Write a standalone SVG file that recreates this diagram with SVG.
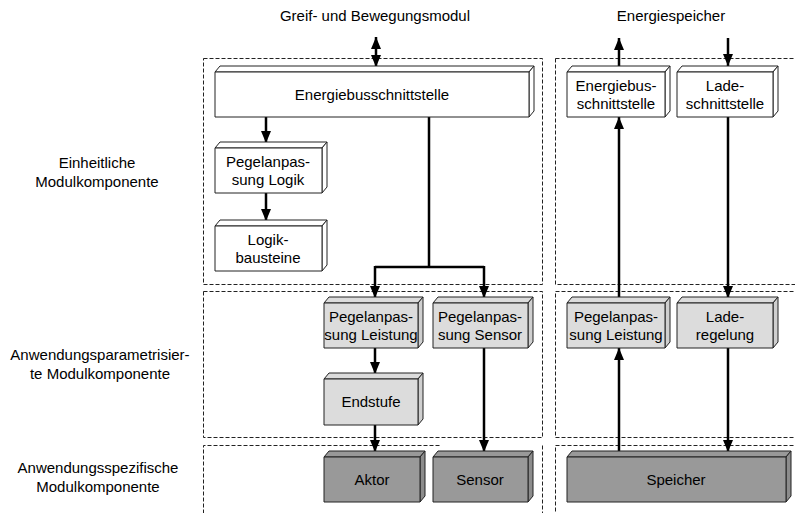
<svg xmlns="http://www.w3.org/2000/svg" width="795" height="513" viewBox="0 0 795 513">
  <style>
    text { font-family: "Liberation Sans", Arial, sans-serif; font-size: 15px; fill: #000; text-anchor: middle; }
    .frame { fill: none; stroke: #222; stroke-width: 1; stroke-dasharray: 4 2; }
    .box path { stroke: #222; stroke-width: 1; stroke-linejoin: round; }
    .white path { fill: #ffffff; }
    .light path { fill: #dcdcdc; }
    .dark path { fill: #999999; }
    .light path.side { fill: #cfcfcf; }
    .dark path.side { fill: #8c8c8c; }
    .conn { fill: none; stroke: #000; stroke-width: 2.5; }
  </style>
  <defs>
    <marker id="arrow" markerUnits="userSpaceOnUse" markerWidth="12" markerHeight="10" refX="12" refY="5" orient="auto-start-reverse">
      <path d="M0,0 L12,5 L0,10 z" fill="#000"/>
    </marker>
  </defs>

  <rect width="795" height="513" fill="#fff"/>

  <!-- dashed component frames (half-pixel offset keeps the 1px dashes crisp) -->
  <g id="frames" transform="translate(0.5,0.5)">
    <rect class="frame" x="203" y="58" width="339" height="226"/>
    <rect class="frame" x="203" y="291" width="339" height="146"/>
    <path class="frame" d="M439,445 H203 V513 M542,445 V513"/>
    <rect class="frame" x="555" y="58" width="250" height="226"/>
    <rect class="frame" x="555" y="291" width="250" height="146"/>
    <path class="frame" d="M805,445 H555 V513"/>
  </g>

  <!-- row labels -->
  <g id="labels">
    <text x="97" y="168">Einheitliche</text>
    <text x="97" y="187">Modulkomponente</text>
    <text x="100" y="360">Anwendungsparametrisier-</text>
    <text x="100" y="379">te Modulkomponente</text>
    <text x="98" y="473">Anwendungsspezifische</text>
    <text x="98" y="492">Modulkomponente</text>
    <text x="375" y="21">Greif- und Bewegungsmodul</text>
    <text x="671" y="21">Energiespeicher</text>
  </g>

  <!-- connectors -->
  <g id="connectors">
    <path class="conn" d="M376,37 V67" marker-start="url(#arrow)" marker-end="url(#arrow)"/>
    <path class="conn" d="M266,117 V143" marker-end="url(#arrow)"/>
    <path class="conn" d="M266,193 V221" marker-end="url(#arrow)"/>
    <path class="conn" d="M429,117 V267 M375,267 H484"/>
    <path class="conn" d="M375,266 V298" marker-end="url(#arrow)"/>
    <path class="conn" d="M484,266 V298" marker-end="url(#arrow)"/>
    <path class="conn" d="M375,348 V374" marker-end="url(#arrow)"/>
    <path class="conn" d="M375,425 V452" marker-end="url(#arrow)"/>
    <path class="conn" d="M484,348 V452" marker-end="url(#arrow)"/>
    <path class="conn" d="M619,66 V38" marker-end="url(#arrow)"/>
    <path class="conn" d="M728,38 V66" marker-end="url(#arrow)"/>
    <path class="conn" d="M619,298 V117" marker-end="url(#arrow)"/>
    <path class="conn" d="M728,117 V298" marker-end="url(#arrow)"/>
    <path class="conn" d="M619,452 V348" marker-end="url(#arrow)"/>
    <path class="conn" d="M728,348 V452" marker-end="url(#arrow)"/>
  </g>

  <!-- 3D boxes: front face, top face, side face (depth 5,6) -->
  <g id="energiebus-left" class="box white">
    <path d="M215,72 L220,66 L534,66 L529,72 Z"/>
    <path class="side" d="M529,72 L534,66 L534,111 L529,117 Z"/>
    <path d="M215,72 H529 V117 H215 Z"/>
    <text x="372" y="100">Energiebusschnittstelle</text>
  </g>

  <g id="pegel-logik" class="box white">
    <path d="M215,148 L220,142 L327,142 L322,148 Z"/>
    <path class="side" d="M322,148 L327,142 L327,187 L322,193 Z"/>
    <path d="M215,148 H322 V193 H215 Z"/>
    <text x="268" y="167">Pegelanpas-</text>
    <text x="268" y="185">sung Logik</text>
  </g>

  <g id="logikbausteine" class="box white">
    <path d="M215,226 L220,220 L327,220 L322,226 Z"/>
    <path class="side" d="M322,226 L327,220 L327,265 L322,271 Z"/>
    <path d="M215,226 H322 V271 H215 Z"/>
    <text x="268" y="245">Logik-</text>
    <text x="268" y="263">bausteine</text>
  </g>

  <g id="pegel-leistung-left" class="box light">
    <path d="M324,303 L329,297 L423,297 L418,303 Z"/>
    <path class="side" d="M418,303 L423,297 L423,342 L418,348 Z"/>
    <path d="M324,303 H418 V348 H324 Z"/>
    <text x="371" y="322">Pegelanpas-</text>
    <text x="371" y="340">sung Leistung</text>
  </g>

  <g id="pegel-sensor" class="box light">
    <path d="M433,303 L438,297 L533,297 L528,303 Z"/>
    <path class="side" d="M528,303 L533,297 L533,342 L528,348 Z"/>
    <path d="M433,303 H528 V348 H433 Z"/>
    <text x="480" y="322">Pegelanpas-</text>
    <text x="480" y="340">sung Sensor</text>
  </g>

  <g id="endstufe" class="box light">
    <path d="M324,379 L329,373 L423,373 L418,379 Z"/>
    <path class="side" d="M418,379 L423,373 L423,419 L418,425 Z"/>
    <path d="M324,379 H418 V425 H324 Z"/>
    <text x="371" y="407">Endstufe</text>
  </g>

  <g id="aktor" class="box dark">
    <path d="M324,457 L329,451 L425,451 L420,457 Z"/>
    <path class="side" d="M420,457 L425,451 L425,496 L420,502 Z"/>
    <path d="M324,457 H420 V502 H324 Z"/>
    <text x="372" y="485">Aktor</text>
  </g>

  <g id="sensor" class="box dark">
    <path d="M433,457 L438,451 L533,451 L528,457 Z"/>
    <path class="side" d="M528,457 L533,451 L533,496 L528,502 Z"/>
    <path d="M433,457 H528 V502 H433 Z"/>
    <text x="480" y="485">Sensor</text>
  </g>

  <g id="energiebus-right" class="box white">
    <path d="M567,72 L572,66 L670,66 L665,72 Z"/>
    <path class="side" d="M665,72 L670,66 L670,111 L665,117 Z"/>
    <path d="M567,72 H665 V117 H567 Z"/>
    <text x="616" y="91">Energiebus-</text>
    <text x="616" y="109">schnittstelle</text>
  </g>

  <g id="ladeschnittstelle" class="box white">
    <path d="M677,72 L682,66 L778,66 L773,72 Z"/>
    <path class="side" d="M773,72 L778,66 L778,111 L773,117 Z"/>
    <path d="M677,72 H773 V117 H677 Z"/>
    <text x="725" y="91">Lade-</text>
    <text x="725" y="109">schnittstelle</text>
  </g>

  <g id="pegel-leistung-right" class="box light">
    <path d="M567,303 L572,297 L670,297 L665,303 Z"/>
    <path class="side" d="M665,303 L670,297 L670,342 L665,348 Z"/>
    <path d="M567,303 H665 V348 H567 Z"/>
    <text x="616" y="322">Pegelanpas-</text>
    <text x="616" y="340">sung Leistung</text>
  </g>

  <g id="laderegelung" class="box light">
    <path d="M677,303 L682,297 L778,297 L773,303 Z"/>
    <path class="side" d="M773,303 L778,297 L778,342 L773,348 Z"/>
    <path d="M677,303 H773 V348 H677 Z"/>
    <text x="725" y="322">Lade-</text>
    <text x="725" y="340">regelung</text>
  </g>

  <g id="speicher" class="box dark">
    <path d="M567,457 L572,451 L791,451 L786,457 Z"/>
    <path class="side" d="M786,457 L791,451 L791,496 L786,502 Z"/>
    <path d="M567,457 H786 V502 H567 Z"/>
    <text x="676" y="485">Speicher</text>
  </g>
</svg>
